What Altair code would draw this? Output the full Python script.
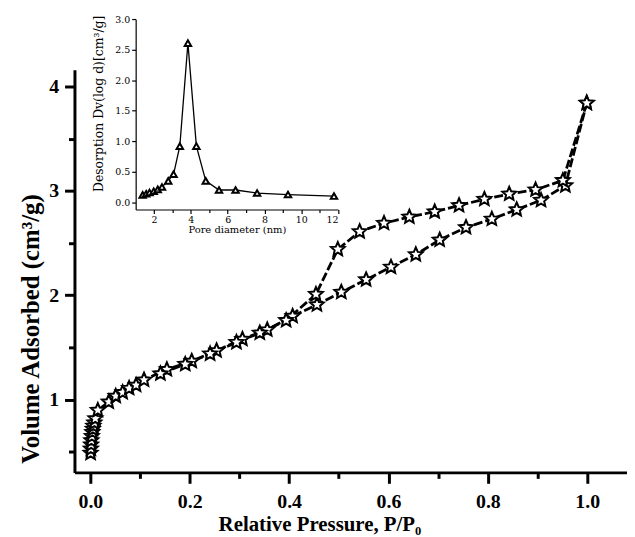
import altair as alt
import pandas as pd

# ---------------- data ----------------
ads_p = [0.0005, 0.001, 0.0015, 0.002, 0.003, 0.004, 0.005, 0.006, 0.008, 0.010,
         0.015, 0.037, 0.051, 0.065, 0.078, 0.092, 0.108, 0.154, 0.204, 0.254,
         0.306, 0.356, 0.407, 0.456, 0.505, 0.555, 0.605, 0.655, 0.703, 0.756,
         0.808, 0.858, 0.907, 0.956, 0.999]
ads_v = [0.49, 0.53, 0.57, 0.61, 0.65, 0.69, 0.72, 0.75, 0.78, 0.82,
         0.90, 0.98, 1.035, 1.07, 1.11, 1.14, 1.19, 1.29, 1.37, 1.47,
         1.58, 1.67, 1.80, 1.91, 2.03, 2.15, 2.27, 2.39, 2.53, 2.65,
         2.73, 2.82, 2.91, 3.05, 3.84]
des_p = [0.999, 0.951, 0.896, 0.843, 0.793, 0.742, 0.693, 0.642, 0.591, 0.542,
         0.498, 0.454, 0.394, 0.341, 0.294, 0.241, 0.191, 0.141]
des_v = [3.84, 3.10, 3.01, 2.97, 2.92, 2.86, 2.80, 2.75, 2.69, 2.61,
         2.44, 2.01, 1.76, 1.64, 1.55, 1.44, 1.34, 1.25]

pore_d = [1.38, 1.57, 1.75, 1.98, 2.2, 2.43, 2.77, 3.06, 3.4, 3.84, 4.3, 4.81,
          5.53, 6.43, 7.6, 9.28, 11.78]
dv = [0.12, 0.14, 0.16, 0.18, 0.21, 0.25, 0.35, 0.46, 0.92, 2.61, 0.92, 0.35,
      0.20, 0.20, 0.15, 0.125, 0.10]

x_major = [0.0, 0.2, 0.4, 0.6, 0.8, 1.0]
x_minor = [0.1, 0.3, 0.5, 0.7, 0.9]
y_major = [1, 2, 3, 4]
y_minor = [0.5, 1.5, 2.5, 3.5]
ix_major = [2, 4, 6, 8, 10, 12]
ix_minor = [3, 5, 7, 9, 11]
iy_major = [0.0, 0.5, 1.0, 1.5, 2.0, 2.5, 3.0]

iso = pd.DataFrame({
    "p": ads_p + des_p,
    "v": ads_v + des_v,
    "branch": ["Adsorption"] * len(ads_p) + ["Desorption"] * len(des_p),
    "order": list(range(len(ads_p))) + list(range(len(des_p))),
})
psd = pd.DataFrame({"d": pore_d, "dv": dv, "order": list(range(len(pore_d)))})

# ---------------- layout / style ----------------
W, H = 557, 406
X_DOM = [-0.032, 1.08]
Y_DOM = [0.305, 4.16]
IX_DOM = [1.0, 12.0]
IY_DOM = [-0.12, 3.0]
IX_RANGE = [61.7, 265.7]
IY_RANGE = [141.0, -50.7]
INSET_X_OFFSET = -265
INSET_Y_OFFSET = -61.7

SERIF = "Liberation Serif"
ISERIF = "DejaVu Serif"
STAR = ("M0,-1L0.27,-0.37L0.951,-0.309L0.44,0.143L0.588,0.809L0,0.46"
        "L-0.588,0.809L-0.44,0.143L-0.951,-0.309L-0.27,-0.37Z")

xs = alt.Scale(domain=X_DOM, nice=False, zero=False)
ys = alt.Scale(domain=Y_DOM, nice=False, zero=False)
ixs = alt.Scale(domain=IX_DOM, range=IX_RANGE, nice=False, zero=False)
iys = alt.Scale(domain=IY_DOM, range=IY_RANGE, nice=False, zero=False)

main_x_axis = alt.Axis(
    orient="bottom", values=x_major, format=".1f", grid=False, domain=True, ticks=True,
    labels=True,
    domainColor="black", domainWidth=3, tickColor="black", tickWidth=3, tickSize=11,
    labelFont=SERIF, labelFontSize=20, labelFontWeight="bold", labelColor="black",
    labelPadding=8,
    title="Relative Pressure, P/P₀", titleFont=SERIF, titleFontSize=21,
    titleFontWeight="bold", titleColor="black", titleX=247, titleY=59,
    titleBaseline="alphabetic", titleAlign="center")
main_y_axis = alt.Axis(
    orient="left", values=y_major, format="d", grid=False, domain=True, ticks=True,
    labels=True,
    domainColor="black", domainWidth=3, tickColor="black", tickWidth=3, tickSize=10,
    labelFont=SERIF, labelFontSize=20, labelFontWeight="bold", labelColor="black",
    labelPadding=6,
    title="Volume Adsorbed (cm³/g)", titleFont=SERIF, titleFontSize=25,
    titleFontWeight="bold", titleColor="black", titleAngle=270, titleX=-36,
    titleY=261, titleBaseline="alphabetic", titleAlign="center")
minor_x_axis = alt.Axis(orient="bottom", values=x_minor, labels=False, domain=False,
                        ticks=True, grid=False, tickColor="black", tickWidth=3,
                        tickSize=6, title=None)
minor_y_axis = alt.Axis(orient="left", values=y_minor, labels=False, domain=False,
                        ticks=True, grid=False, tickColor="black", tickWidth=3,
                        tickSize=6, title=None)

inset_x_axis = alt.Axis(
    orient="bottom", offset=INSET_X_OFFSET, values=ix_major, format="d", grid=False,
    domain=True, ticks=True, labels=True,
    domainColor="black", domainWidth=1.2, tickColor="black", tickWidth=1.2, tickSize=4,
    labelFont=ISERIF, labelFontSize=9.5, labelColor="black", labelPadding=1,
    title="Pore diameter (nm)", titleFont=ISERIF, titleFontSize=10,
    titleFontWeight="normal", titleColor="black", titlePadding=1)
inset_y_axis = alt.Axis(
    orient="left", offset=INSET_Y_OFFSET, values=iy_major, format=".1f", grid=False,
    domain=True, ticks=True, labels=True,
    domainColor="black", domainWidth=1.2, tickColor="black", tickWidth=1.2, tickSize=4,
    labelFont=ISERIF, labelFontSize=9.5, labelColor="black", labelPadding=2,
    title="Desorption Dv(log d)[cm³/g]", titleFont=ISERIF, titleFontSize=12.5,
    titleFontWeight="normal", titleColor="black", titleAngle=270, titleX=-33,
    titleY=34, titleBaseline="alphabetic", titleAlign="center")
inset_minor_x = alt.Axis(orient="bottom", offset=INSET_X_OFFSET, values=ix_minor,
                         labels=False, domain=False, ticks=True, grid=False,
                         tickColor="black", tickWidth=1.2, tickSize=3, title=None)

base = alt.Chart(iso)

iso_lines = base.mark_line(color="black", strokeWidth=2.8, strokeDash=[9, 3]).encode(
    x=alt.X("p:Q", scale=xs, axis=main_x_axis),
    y=alt.Y("v:Q", scale=ys, axis=main_y_axis),
    detail="branch:N",
    order="order:Q",
)
iso_pts = base.mark_point(shape=STAR, size=210, filled=True, fill="white",
                          stroke="black", strokeWidth=2, opacity=1).encode(
    x=alt.X("p:Q", scale=xs, axis=minor_x_axis),
    y=alt.Y("v:Q", scale=ys, axis=minor_y_axis),
)

ibase = alt.Chart(psd)
psd_line = ibase.mark_line(color="black", strokeWidth=1.3).encode(
    x=alt.X("d:Q", scale=ixs, axis=inset_x_axis),
    y=alt.Y("dv:Q", scale=iys, axis=inset_y_axis),
    order="order:Q",
)
psd_pts = ibase.mark_point(shape="triangle-up", size=42, filled=True, fill="white",
                           stroke="black", strokeWidth=2, opacity=1).encode(
    x=alt.X("d:Q", scale=ixs, axis=inset_minor_x),
    y=alt.Y("dv:Q", scale=iys, axis=None),
)

chart = alt.layer(iso_lines, iso_pts, psd_line, psd_pts).resolve_scale(
    x="independent", y="independent"
).properties(
    width=W, height=H,
    background="white",
    autosize=alt.AutoSizeParams(type="none"),
    padding={"left": 67, "top": 60, "right": 0, "bottom": 62},
).configure_view(
    strokeWidth=0, stroke="transparent"
).configure_axis(
    grid=False
)

chart.save("out.html", embed_options={"renderer": "svg", "actions": False})
